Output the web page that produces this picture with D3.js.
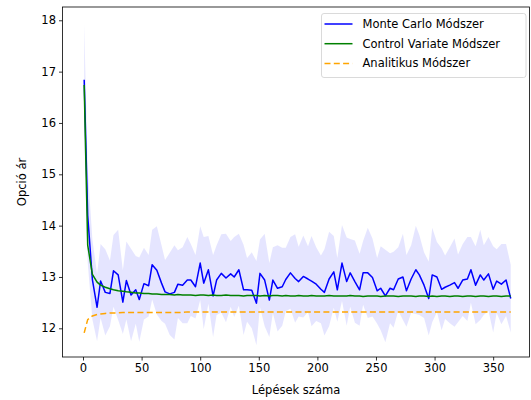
<!DOCTYPE html>
<html>
<head>
<meta charset="utf-8">
<script src="https://cdn.jsdelivr.net/npm/d3@7"></script>
<style>
  html, body { margin: 0; padding: 0; background: #fff; }
  svg { display: block; font-family: "DejaVu Sans", sans-serif; }
</style>
</head>
<body>
<svg id="chart" width="531" height="400"></svg>
<script>
// Number of time steps used for each estimate
const steps = [1,4,8,12,15,19,23,26,30,34,37,41,45,48,52,56,59,63,67,70,
  74,78,81,85,89,92,96,100,103,107,111,114,118,122,126,129,133,137,140,144,
  148,151,155,159,162,166,170,173,177,181,184,188,192,195,199,203,206,210,214,217,
  221,225,228,232,236,239,243,247,251,254,258,262,265,269,273,276,280,284,287,291,
  295,298,302,306,309,313,317,320,324,328,331,335,339,342,346,350,353,357,361,365];

// Plain Monte Carlo price estimate
const monteCarlo = [16.84,14.20,12.95,12.41,12.92,12.70,12.68,13.12,13.04,12.51,
  12.93,12.65,12.75,12.56,12.87,12.83,13.24,13.13,12.88,12.71,
  12.67,12.70,12.86,12.84,12.94,12.94,12.81,13.27,12.88,13.14,
  12.63,12.94,13.07,12.98,13.06,13.00,13.14,12.75,12.75,12.74,
  12.49,13.07,12.94,12.55,12.94,12.78,12.81,12.95,13.08,12.97,
  12.91,13.01,12.96,12.92,12.86,12.76,12.70,12.96,13.10,12.75,
  13.27,12.91,13.08,12.91,12.75,13.08,13.08,12.99,12.73,12.78,
  12.63,12.78,12.75,12.96,13.00,12.73,12.96,13.14,13.04,12.84,
  12.58,13.04,13.00,12.76,12.80,12.84,12.89,12.78,12.94,12.96,
  13.14,12.84,13.04,12.94,13.06,12.76,12.92,12.86,12.94,12.58];

// Half-width of the Monte Carlo confidence band
const mcHalfWidth = [1.10,0.92,0.78,0.66,0.72,0.84,0.64,0.70,0.88,0.62,
  0.76,0.90,0.66,0.82,0.70,0.60,0.68,0.86,0.74,0.62,
  0.80,0.92,0.66,0.74,0.84,0.70,0.62,0.72,0.90,0.66,
  0.80,0.68,0.76,0.86,0.64,0.78,0.70,0.88,0.62,0.74,
  0.82,0.66,0.90,0.72,0.64,0.84,0.76,0.62,0.70,0.86,
  0.68,0.80,0.64,0.88,0.72,0.66,0.84,0.92,0.70,0.62,
  0.74,0.86,0.66,0.80,0.70,0.62,0.88,0.76,0.64,0.82,
  0.90,0.68,0.74,0.62,0.84,0.70,0.66,0.86,0.78,0.64,
  0.72,0.92,0.68,0.80,0.62,0.74,0.86,0.66,0.70,0.82,
  0.64,0.76,0.88,0.68,0.72,0.84,0.62,0.78,0.70,0.66];

// Control variate estimate
const controlVariate = [16.74,13.62,13.05,12.90,12.84,12.80,12.77,12.75,12.73,12.72,
  12.71,12.70,12.69,12.69,12.68,12.68,12.67,12.67,12.66,12.66,
  12.66,12.65,12.66,12.65,12.65,12.65,12.64,12.65,12.65,12.64,
  12.65,12.64,12.64,12.65,12.64,12.64,12.64,12.63,12.64,12.64,
  12.64,12.63,12.64,12.63,12.64,12.64,12.63,12.64,12.63,12.63,
  12.64,12.63,12.63,12.64,12.63,12.63,12.63,12.64,12.63,12.63,
  12.63,12.63,12.64,12.63,12.63,12.62,12.63,12.63,12.63,12.62,
  12.63,12.63,12.63,12.62,12.63,12.63,12.63,12.62,12.63,12.63,
  12.62,12.63,12.62,12.63,12.63,12.62,12.63,12.63,12.62,12.63,
  12.63,12.62,12.63,12.63,12.62,12.63,12.63,12.62,12.63,12.63];

// Closed-form (analytic) price
const analytic = [11.91,12.17,12.24,12.27,12.28,12.29,12.30,12.30,12.30,12.31,
  12.31,12.31,12.31,12.31,12.31,12.31,12.31,12.31,12.31,12.31,
  12.31,12.31,12.31,12.31,12.32,12.32,12.32,12.32,12.32,12.32,
  12.32,12.32,12.32,12.32,12.32,12.32,12.32,12.32,12.32,12.32,
  12.32,12.32,12.32,12.32,12.32,12.32,12.32,12.32,12.32,12.32,
  12.32,12.32,12.32,12.32,12.32,12.32,12.32,12.32,12.32,12.32,
  12.32,12.32,12.32,12.32,12.32,12.32,12.32,12.32,12.32,12.32,
  12.32,12.32,12.32,12.32,12.32,12.32,12.32,12.32,12.32,12.32,
  12.32,12.32,12.32,12.32,12.32,12.32,12.32,12.32,12.32,12.32,
  12.32,12.32,12.32,12.32,12.32,12.32,12.32,12.32,12.32,12.32];

const xTicks = [0, 50, 100, 150, 200, 250, 300, 350];
const yTicks = [12, 13, 14, 15, 16, 17, 18];
const seriesNames = ["Monte Carlo Módszer", "Control Variate Módszer", "Analitikus Módszer"];

const svg = d3.select("#chart");
const plot = { left: 62.5, right: 529.5, top: 7, bottom: 357 };

const x = d3.scaleLinear().domain([-17.5, 381]).range([plot.left, plot.right]);
const y = d3.scaleLinear().domain([11.441, 18.259]).range([plot.bottom, plot.top]);

const rows = steps.map((s, i) => ({
  s, mc: monteCarlo[i], hw: mcHalfWidth[i], cv: controlVariate[i], an: analytic[i]
}));

const g = svg.append("g");

// confidence band
g.append("path")
  .datum(rows)
  .attr("fill", "rgba(0,0,255,0.1)")
  .attr("d", d3.area().x(d => x(d.s)).y0(d => y(d.mc - d.hw)).y1(d => y(d.mc + d.hw)));

const line = key => d3.line().x(d => x(d.s)).y(d => y(d[key]));

g.append("path").datum(rows)
  .attr("fill", "none").attr("stroke", "#0000ff").attr("stroke-width", 1.5)
  .attr("stroke-linejoin", "round").attr("d", line("mc"));

g.append("path").datum(rows)
  .attr("fill", "none").attr("stroke", "#008000").attr("stroke-width", 1.5)
  .attr("stroke-linejoin", "round").attr("d", line("cv"));

g.append("path").datum(rows)
  .attr("fill", "none").attr("stroke", "#ffa500").attr("stroke-width", 1.5)
  .attr("stroke-dasharray", "6,3.3").attr("d", line("an"));

// axes
const xAxis = svg.append("g")
  .attr("transform", `translate(0,${plot.bottom})`)
  .call(d3.axisBottom(x).tickValues(xTicks).tickFormat(d3.format("d"))
    .tickSize(3.5).tickPadding(3).tickSizeOuter(0));
const yAxis = svg.append("g")
  .attr("transform", `translate(${plot.left},0)`)
  .call(d3.axisLeft(y).tickValues(yTicks).tickFormat(d3.format("d"))
    .tickSize(3.5).tickPadding(3).tickSizeOuter(0));

[xAxis, yAxis].forEach(a => {
  a.select(".domain").remove();
  a.selectAll("line").attr("stroke", "#000").attr("stroke-width", 0.8);
  a.selectAll("text").attr("fill", "#000").style("font-size", "11.5px")
    .style("font-family", "DejaVu Sans, sans-serif");
});

// frame
svg.append("rect")
  .attr("x", plot.left).attr("y", plot.top)
  .attr("width", plot.right - plot.left).attr("height", plot.bottom - plot.top)
  .attr("fill", "none").attr("stroke", "#000").attr("stroke-width", 0.8);

// axis titles
svg.append("text")
  .attr("x", (plot.left + plot.right) / 2).attr("y", 394)
  .attr("text-anchor", "middle").style("font-size", "11.5px").text("Lépések száma");
svg.append("text")
  .attr("transform", `translate(26,${(plot.top + plot.bottom) / 2}) rotate(-90)`)
  .attr("text-anchor", "middle").style("font-size", "11.5px").text("Opció ár");

// legend
const lg = svg.append("g");
lg.append("rect")
  .attr("x", 321.5).attr("y", 13.5).attr("width", 204.5).attr("height", 64)
  .attr("rx", 2.5).attr("fill", "rgba(255,255,255,0.8)")
  .attr("stroke", "#d0d0d0").attr("stroke-width", 0.8);
const legendStyles = [
  { color: "#0000ff", dash: null },
  { color: "#008000", dash: null },
  { color: "#ffa500", dash: "6,3.3" }
];
seriesNames.forEach((name, i) => {
  const cy = 24 + i * 19.7;
  lg.append("line")
    .attr("x1", 324.5).attr("x2", 352.5).attr("y1", cy).attr("y2", cy)
    .attr("stroke", legendStyles[i].color).attr("stroke-width", 1.5)
    .attr("stroke-dasharray", legendStyles[i].dash);
  lg.append("text")
    .attr("x", 362.5).attr("y", cy + 4)
    .style("font-size", "11.5px").attr("fill", "#000").text(name);
});
</script>
</body>
</html>
